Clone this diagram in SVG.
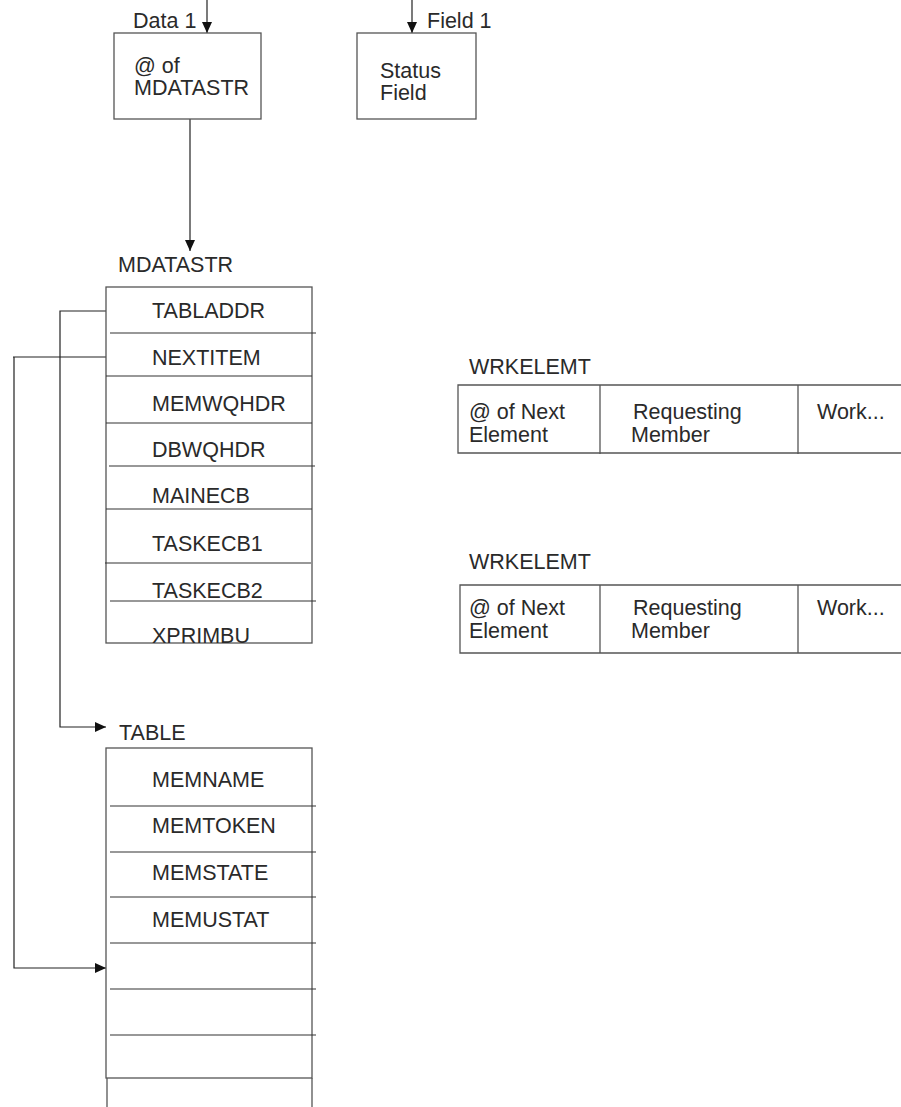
<svg xmlns="http://www.w3.org/2000/svg" width="901" height="1107" viewBox="0 0 901 1107">
<style>
text{font-family:"Liberation Sans",Arial,Helvetica,sans-serif;font-size:21.5px;fill:#2a2a2a}
.bx{fill:none;stroke:#555;stroke-width:1.3}
.ln{fill:none;stroke:#333;stroke-width:1.2}
.cn{fill:none;stroke:#222;stroke-width:1.2}
</style>
<defs>
<marker id="ah" markerUnits="userSpaceOnUse" markerWidth="12" markerHeight="10" refX="11" refY="5" orient="auto">
<path d="M0,0 L11,5 L0,10 Z" fill="#111"/>
</marker>
</defs>
<g id="connectors">
<line class="cn" x1="207" y1="0" x2="207" y2="33" marker-end="url(#ah)"/>
<line class="cn" x1="412" y1="0" x2="412" y2="33" marker-end="url(#ah)"/>
<line class="cn" x1="190" y1="119" x2="190" y2="251" marker-end="url(#ah)"/>
<path class="cn" d="M106,311 H60 V727 H106" marker-end="url(#ah)"/>
<path class="cn" d="M106,357 H13 M14,357 V968 H106" marker-end="url(#ah)"/>
</g>
<g id="data1">
<text x="133" y="28">Data 1</text>
<rect class="bx" x="114" y="33" width="147" height="86"/>
<text x="134" y="73">@ of</text>
<text x="134" y="95">MDATASTR</text>
</g>
<g id="field1">
<text x="427" y="28">Field 1</text>
<rect class="bx" x="357" y="33" width="119" height="86"/>
<text x="380" y="78">Status</text>
<text x="380" y="100">Field</text>
</g>
<g id="mdatastr">
<text x="118" y="272">MDATASTR</text>
<rect class="bx" x="106" y="287" width="206" height="356"/>
<line class="ln" x1="110" y1="333" x2="316" y2="333"/>
<line class="ln" x1="106" y1="376" x2="312" y2="376"/>
<line class="ln" x1="106" y1="423" x2="312" y2="423"/>
<line class="ln" x1="109" y1="466" x2="315" y2="466"/>
<line class="ln" x1="106" y1="509" x2="312" y2="509"/>
<line class="ln" x1="105" y1="563" x2="311" y2="563"/>
<line class="ln" x1="110" y1="601" x2="316" y2="601"/>
<text x="152" y="318">TABLADDR</text>
<text x="152" y="365">NEXTITEM</text>
<text x="152" y="411">MEMWQHDR</text>
<text x="152" y="457">DBWQHDR</text>
<text x="152" y="503">MAINECB</text>
<text x="152" y="551">TASKECB1</text>
<text x="152" y="598">TASKECB2</text>
<text x="152" y="643">XPRIMBU</text>
</g>
<g id="table">
<text x="119" y="740">TABLE</text>
<rect class="bx" x="106" y="748" width="206" height="330"/>
<line class="ln" x1="110" y1="806" x2="316" y2="806" stroke-width="1.8"/>
<line class="ln" x1="110" y1="852" x2="316" y2="852"/>
<line class="ln" x1="110" y1="897" x2="316" y2="897"/>
<line class="ln" x1="110" y1="943" x2="316" y2="943"/>
<line class="ln" x1="110" y1="989" x2="316" y2="989"/>
<line class="ln" x1="110" y1="1035" x2="316" y2="1035"/>
<line class="bx" x1="107" y1="1078" x2="107" y2="1107"/>
<line class="bx" x1="312" y1="1078" x2="312" y2="1107"/>
<text x="152" y="787">MEMNAME</text>
<text x="152" y="833">MEMTOKEN</text>
<text x="152" y="880">MEMSTATE</text>
<text x="152" y="927">MEMUSTAT</text>
</g>
<g id="wrkelemt1">
<text x="469" y="374">WRKELEMT</text>
<path class="bx" d="M905,385 H458 V453 H905"/>
<line class="bx" x1="600" y1="385" x2="600" y2="454"/>
<line class="bx" x1="798" y1="385" x2="798" y2="454"/>
<text x="469" y="419">@ of Next</text>
<text x="469" y="442">Element</text>
<text x="633" y="419">Requesting</text>
<text x="631" y="442">Member</text>
<text x="817" y="419">Work...</text>
</g>
<g id="wrkelemt2">
<text x="469" y="569">WRKELEMT</text>
<path class="bx" d="M905,585 H460 V653 H905"/>
<line class="bx" x1="600" y1="585" x2="600" y2="653"/>
<line class="bx" x1="798" y1="585" x2="798" y2="653"/>
<text x="469" y="615">@ of Next</text>
<text x="469" y="638">Element</text>
<text x="633" y="615">Requesting</text>
<text x="631" y="638">Member</text>
<text x="817" y="615">Work...</text>
</g>
</svg>
